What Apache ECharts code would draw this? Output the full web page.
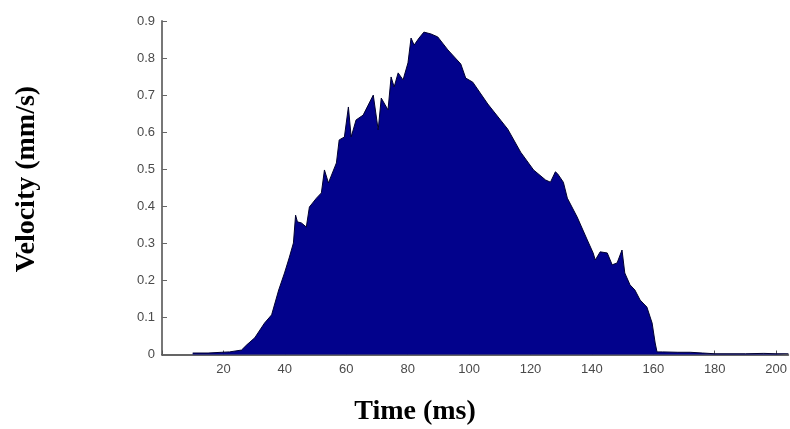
<!DOCTYPE html>
<html>
<head>
<meta charset="utf-8">
<script src="https://cdn.jsdelivr.net/npm/echarts@6/dist/echarts.min.js"></script>
<style>
html,body{margin:0;padding:0;background:#fff;}
#chart{width:790px;height:429px;}
</style>
</head>
<body>
<div id="chart"></div>
<script>
// Time (ms)
var times = [10, 15, 19.5, 22, 25.9, 27.6, 30.2, 33.4, 35.7, 38.0, 39.9, 41.5, 42.8, 43.5, 44.1, 45.4, 47.0, 48.0,
  50.3, 51.9, 52.9, 54.2, 56.8, 57.7, 59.4, 60.7, 61.6, 63.2, 65.5, 68.8, 70.4, 71.4, 73.6, 74.6, 75.6, 76.9,
  78.5, 80.1, 81.1, 82.1, 83.7, 85.3, 87.6, 89.8, 93.1, 97.3, 98.9, 101.2, 106.1, 112.6, 116.8, 121.0, 124.9,
  126.5, 128.1, 128.8, 130.7, 132.0, 135.2, 138.5, 140.4, 141.1, 142.7, 145.0, 146.6, 148.2, 149.8, 150.7,
  152.4, 154.0, 155.7, 157.9, 159.6, 160.6, 161.2, 163, 168, 172, 176, 180, 190, 196, 200, 204];
// Velocity (mm/s)
var velocity = [0.004, 0.004, 0.006, 0.007, 0.012, 0.026, 0.045, 0.085, 0.107, 0.174, 0.220, 0.263, 0.301, 0.376, 0.358, 0.355, 0.344, 0.398,
  0.422, 0.436, 0.498, 0.463, 0.517, 0.579, 0.587, 0.668, 0.587, 0.633, 0.646, 0.700, 0.606, 0.692, 0.660, 0.749, 0.722, 0.760,
  0.741, 0.787, 0.854, 0.835, 0.854, 0.870, 0.865, 0.857, 0.822, 0.784, 0.746, 0.735, 0.676, 0.608, 0.546, 0.498, 0.471,
  0.465, 0.493, 0.488, 0.465, 0.422, 0.371, 0.309, 0.274, 0.255, 0.277, 0.274, 0.242, 0.247, 0.282, 0.220,
  0.188, 0.174, 0.147, 0.128, 0.085, 0.031, 0.007, 0.007, 0.006, 0.006, 0.004, 0.002, 0.002, 0.003, 0.002, 0.002];
var xTicks = [20, 40, 60, 80, 100, 120, 140, 160, 180, 200];
var yTicks = [0, 0.1, 0.2, 0.3, 0.4, 0.5, 0.6, 0.7, 0.8, 0.9];

var data = times.map(function (t, i) { return [t, velocity[i]]; });
var chart = echarts.init(document.getElementById('chart'), null, {renderer: 'canvas'});
chart.setOption({
  animation: false,
  backgroundColor: '#ffffff',
  grid: {left: 162, top: 21, right: 1, bottom: 74.5, containLabel: false},
  xAxis: {
    type: 'value', min: 0, max: 204, interval: 20,
    axisLine: {show: true, lineStyle: {color: '#333', width: 1.5}},
    axisTick: {show: true, inside: true, length: 4, lineStyle: {color: '#555'}},
    axisLabel: {
      color: '#4a4a4a', fontSize: 13, fontFamily: 'Liberation Sans, Arial, sans-serif', margin: 8,
      showMaxLabel: false,
      formatter: function (v) { return xTicks.indexOf(v) >= 0 ? String(v) : ''; }
    },
    splitLine: {show: false}
  },
  yAxis: {
    type: 'value', min: 0, max: 0.9, interval: 0.1,
    axisLine: {show: true, lineStyle: {color: '#777', width: 2}},
    axisTick: {show: true, inside: true, length: 5, lineStyle: {color: '#666'}},
    axisLabel: {
      color: '#4a4a4a', fontSize: 13, fontFamily: 'Liberation Sans, Arial, sans-serif', margin: 7,
      formatter: function (v) {
        var r = Math.round(v * 10) / 10;
        for (var i = 0; i < yTicks.length; i++) { if (Math.abs(yTicks[i] - r) < 1e-9) return r === 0 ? '0' : r.toFixed(1); }
        return '';
      }
    },
    splitLine: {show: false}
  },
  graphic: [
    {type: 'text', x: 27, y: 179, rotation: Math.PI / 2,
      style: {text: 'Velocity (mm/s)', font: 'bold 28px "Liberation Serif", "Times New Roman", serif', fill: '#000',
        textAlign: 'center', textVerticalAlign: 'middle'}},
    {type: 'text', x: 415, y: 412,
      style: {text: 'Time (ms)', font: 'bold 28px "Liberation Serif", "Times New Roman", serif', fill: '#000',
        textAlign: 'center', textVerticalAlign: 'middle'}}
  ],
  series: [{
    type: 'line', data: data, symbol: 'none', smooth: false,
    lineStyle: {color: '#000030', width: 1},
    areaStyle: {color: '#02028c', opacity: 1}
  }]
});
</script>
</body>
</html>
